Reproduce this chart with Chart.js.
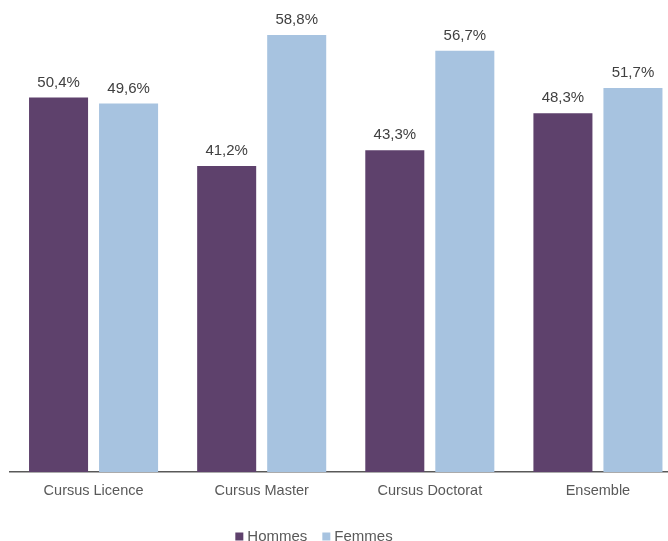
<!DOCTYPE html>
<html>
<head>
<meta charset="utf-8">
<script src="https://cdn.jsdelivr.net/npm/chart.js@4/dist/chart.umd.min.js"></script>
<style>
  html, body { margin: 0; padding: 0; overflow: hidden; background: #fff; }
  #wrap { width: 682px; height: 541px; }
</style>
</head>
<body>
<div id="wrap"><canvas id="barChart"></canvas></div>
<script>
const categories = ['Cursus Licence', 'Cursus Master', 'Cursus Doctorat', 'Ensemble'];
const hommes = [50.4, 41.2, 43.3, 48.3];
const femmes = [49.6, 58.8, 56.7, 51.7];

const FONT = '"Liberation Sans", Arial, sans-serif';

// valeurs au-dessus des barres, format français
const barLabels = {
    id: 'barLabels',
    afterDatasetsDraw(chart) {
        const ctx = chart.ctx;
        ctx.save();
        ctx.font = '15px ' + FONT;
        ctx.fillStyle = '#404040';
        ctx.textAlign = 'center';
        ctx.textBaseline = 'middle';
        chart.data.datasets.forEach((ds, i) => {
            chart.getDatasetMeta(i).data.forEach((bar, j) => {
                const txt = ds.data[j].toFixed(1).replace('.', ',') + '%';
                ctx.fillText(txt, bar.x, bar.y - 15);
            });
        });
        ctx.restore();
    }
};

// légende en bas, décalée comme dans l'original
const bottomLegend = {
    id: 'bottomLegend',
    afterDraw(chart) {
        const ctx = chart.ctx;
        const y = 536.5, box = 8, gap = 4, spacing = 15;
        ctx.save();
        ctx.font = '15px ' + FONT;
        ctx.textBaseline = 'middle';
        const items = chart.data.datasets.map(ds => ({
            text: ds.label, color: ds.backgroundColor, w: ctx.measureText(ds.label).width
        }));
        const total = items.reduce((s, it) => s + box + gap + it.w, 0) + spacing * (items.length - 1);
        let x = 314 - total / 2;
        items.forEach(it => {
            ctx.fillStyle = it.color;
            ctx.fillRect(x, y - box / 2, box, box);
            x += box + gap;
            ctx.fillStyle = '#595959';
            ctx.fillText(it.text, x, y);
            x += it.w + spacing;
        });
        ctx.restore();
    }
};

(() => {
    const ctx = document.getElementById('barChart').getContext('2d');
    new Chart(ctx, {
        type: 'bar',
        data: {
            labels: categories,
            datasets: [{
                label: 'Hommes',
                data: hommes,
                backgroundColor: '#5E416C',
                borderWidth: 0
            }, {
                label: 'Femmes',
                data: femmes,
                backgroundColor: '#A7C3E0',
                borderWidth: 0
            }]
        },
        options: {
            responsive: true,
            maintainAspectRatio: false,
            animation: false,
            categoryPercentage: 0.833,
            barPercentage: 0.843,
            layout: {
                padding: { left: 9.5, right: 0, top: 26.2, bottom: 31.5 }
            },
            scales: {
                x: {
                    grid: { display: false, drawTicks: false },
                    border: { display: true, color: '#595959', width: 1.5 },
                    ticks: {
                        color: '#595959',
                        padding: 10,
                        font: { family: FONT, size: 14.5 }
                    }
                },
                y: {
                    display: false,
                    min: 0,
                    max: 60
                }
            },
            plugins: {
                legend: { display: false },
                tooltip: { enabled: false }
            }
        },
        plugins: [barLabels, bottomLegend]
    });
})();
</script>
</body>
</html>
